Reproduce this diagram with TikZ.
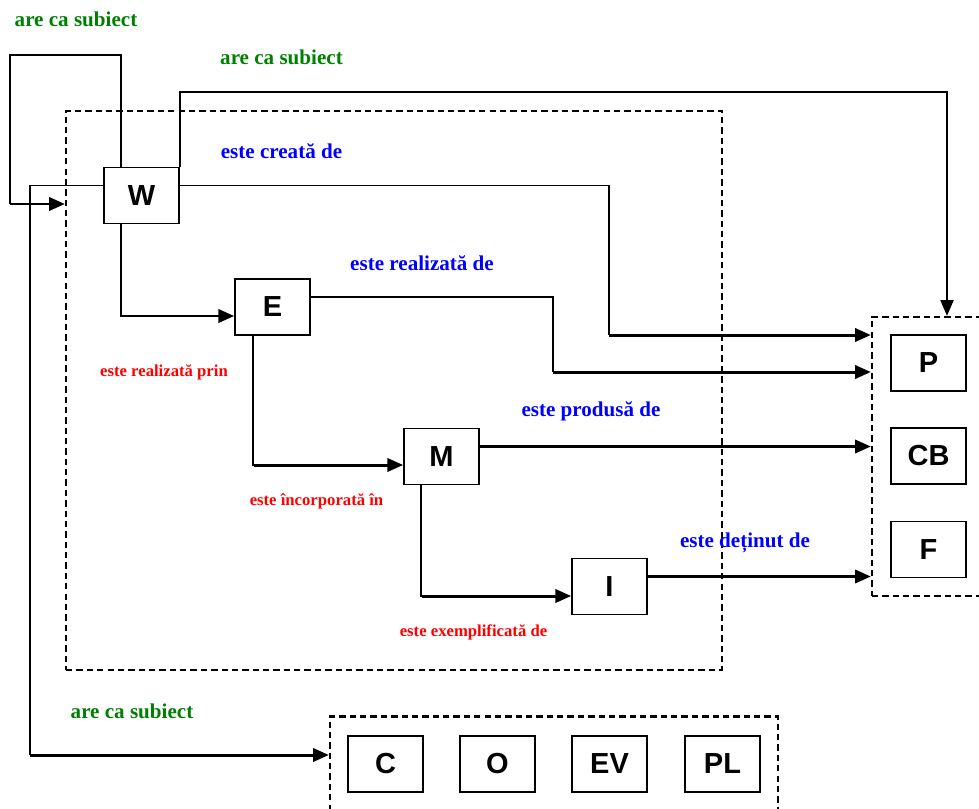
\documentclass[tikz,border=0pt]{standalone}
\usepackage{fontspec}
\setmainfont{Liberation Serif}
\newfontfamily\boxfont{Liberation Sans}
\usetikzlibrary{arrows.meta,calc}
\definecolor{relgreen}{RGB}{0,128,0}
\definecolor{relblue}{RGB}{0,0,255}
\definecolor{relred}{RGB}{255,0,0}

\begin{document}
\begin{tikzpicture}[
    x=0.02cm, y=-0.02cm,
    box/.style={draw, line width=0.9pt, minimum width=1.5cm, minimum height=1.12cm, inner sep=0pt,
        font=\boxfont\fontsize{16.5}{18}\selectfont\bfseries},
    frame/.style={draw, line width=1.3pt, dash pattern=on 3.6pt off 2.3pt, inner sep=0pt},
    link/.style={draw, line width=0.85pt},
    tip/.style={-{Triangle[length=9pt,width=7.5pt]}},
    flow/.style={draw, line width=1.7pt, tip},
    subj/.style={text=relgreen, font=\fontsize{12}{14}\selectfont\bfseries},
    agent/.style={text=relblue, font=\fontsize{12}{14}\selectfont\bfseries},
    chain/.style={text=relred, font=\fontsize{9.5}{11}\selectfont\bfseries}
]
    \clip (0,0) rectangle (979,808);

    % Dashed groups: work chain, agents, subjects
    \node[frame, minimum width=13.12cm, minimum height=11.18cm] (core) at (394,390.5) {};
    \node[frame, minimum width=2.56cm, minimum height=5.58cm] (agents) at (936,456.5) {};
    \node[frame, minimum width=8.96cm, minimum height=2.3cm] (topics) at (554,774) {};

    % Group 1 entities
    \node[box] (W) at (141.5,195.5) {W};
    \node[box] (E) at (272.5,307) {E};
    \node[box] (M) at (441.5,456.5) {M};
    \node[box] (I) at (609.5,586.5) {I};

    % Group 2 entities
    \node[box] (P) at (928.5,363) {P};
    \node[box] (CB) at (928.5,456) {CB};
    \node[box] (F) at (928.5,549.5) {F};

    % Group 3 entities
    \node[box] (C) at (385.5,764) {C};
    \node[box] (O) at (497.5,764) {O};
    \node[box] (EV) at (609.5,764) {EV};
    \node[box] (PL) at (722.5,764) {PL};

    % Bend points
    \coordinate (loop) at (10,204);
    \coordinate (wp) at (609,335);
    \coordinate (ep) at (553,372);
    \coordinate (wt) at (30,755);
    \coordinate (we) at (122,316);
    \coordinate (em) at (254,465);
    \coordinate (mi) at (422,596);
    \coordinate (mc) at ($(M.east)+(0,-10)$);
    \coordinate (if) at ($(I.east)+(0,-10)$);

    % W -> W (are ca subiect)
    \draw[link] ($(W.north west)+(18,0)$) |- (10,55) -- (loop);
    \draw[flow] (loop) -- (core.west |- loop);

    % W -> agents (are ca subiect)
    \draw[link, tip] (W.north east) |- (947,92) -- (947,92 |- agents.north);

    % W -> P (este creată de)
    \draw[link] ($(W.east)+(0,-10)$) -| (wp);
    \draw[flow] (wp) -- (wp -| agents.west);

    % W -> subjects (are ca subiect)
    \draw[link] ($(W.west)+(0,-10)$) -| (wt);
    \draw[flow] (wt) -- (wt -| topics.west);

    % W -> E (este realizată prin)
    \draw[link] ($(W.south west)+(18,0)$) |- (we);
    \draw[flow] (we) -- (we -| E.west);

    % E -> P (este realizată de)
    \draw[link] ($(E.east)+(0,-10)$) -| (ep);
    \draw[flow] (ep) -- (ep -| agents.west);

    % E -> M (este încorporată în)
    \draw[link] ($(E.south west)+(19,0)$) |- (em);
    \draw[flow] (em) -- (em -| M.west);

    % M -> CB (este produsă de)
    \draw[flow] (mc) -- (mc -| agents.west);

    % M -> I (este exemplificată de)
    \draw[link] ($(M.south west)+(18,0)$) |- (mi);
    \draw[flow] (mi) -- (mi -| I.west);

    % I -> F (este deținut de)
    \draw[flow] (if) -- (if -| agents.west);

    % Relation labels
    \node[subj] (l1) at (76,19) {are ca subiect};
    \node[subj] (l2) at (281.5,57) {are ca subiect};
    \node[subj] (l3) at (132,711) {are ca subiect};
    \node[agent] (l4) at (281.5,151) {este creată de};
    \node[agent] (l5) at (422,263) {este realizată de};
    \node[agent] (l6) at (591,411) {este produsă de};
    \node[agent] (l7) at (745,543) {este deținut de};
    \node[chain] (l8) at (164,372) {este realizată prin};
    \node[chain] (l9) at (316.5,501) {este încorporată în};
    \node[chain] (l10) at (473.5,632) {este exemplificată de};

\end{tikzpicture}
\end{document}
